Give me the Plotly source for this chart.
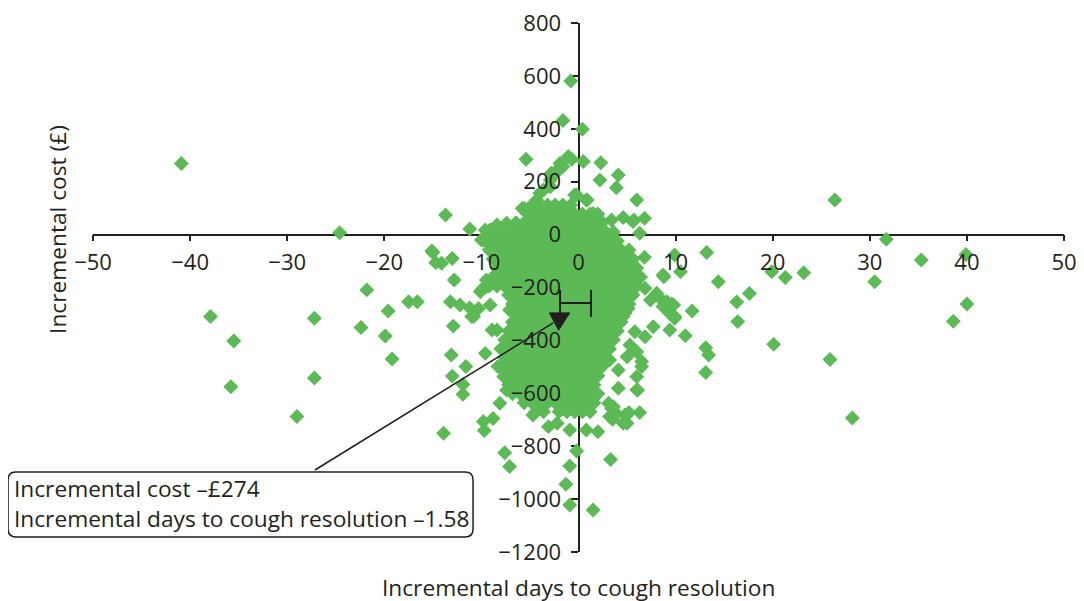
import plotly.graph_objects as go

INK = '#231f20'
GREEN = 'rgb(92,186,86)'
FONT = 'Open Sans'
FS = 22      # tick labels
FT = 22.7    # titles and call-out text

# ---------------- data -------------------------------------------------
# scattered bootstrap replicates (incremental days, incremental cost £)
out_days = [-40.9, -24.6, -13.7, -11.2, -21.8, -37.9, -27.2, -17.5, -16.6, -19.6,
            -22.4, -19.9, -35.5, -19.2, -27.2, -35.8, -29.0, -13.9, -9.7, -8.8,
            -15.1, -14.7, -14.1, -13.0, -12.8, -13.2, -12.2, -11.2, -10.8, -12.9,
            -13.1, -11.6, -13.0, -11.9, -11.9, -9.6, -9.1, -10.0, -9.5, -9.9, -9.1,
            26.4, 31.7, 35.3, 39.9, 13.2, 14.4, 19.9, 21.3, 23.2, 17.6, 16.3, 16.4,
            30.5, 40.0, 38.6, 20.1, 25.9, 28.2, 13.1, 13.4, 13.1,
            9.9, 8.8, 10.5, 11.7, 9.6, 8.7, 9.9, 9.4, 11.0,
            -5.4, -0.8, -1.6, 0.4, -1.05, 0.5, 2.3, 2.2, 4.1, 3.9, 6.0, -0.4, 0.9,
            6.8, 5.7, 4.6, 6.3, 6.8, 8.7,
            -1.9, -2.2, -2.8, -1.6, -0.7, -2.9, -4.0, -4.8, -5.8, -5.3, -0.2, 0.8,
            -0.9, 0.15, 1.5, 2.2, 3.4, 5.6, -3.6, -4.3, -2.9, -2.2,
            -15.0, -8.4, -7.4, -6.5, -5.6, -10.0, -9.6,
            -10.1, -9.5, -11.0, -8.9, -9.8, -8.3, -7.7, -7.4, -8.1, -4.7, -7.1,
            -8.4, -7.1, -6.0, -10.3,
            -0.2, 3.3, -0.9, -7.6, -7.1, -1.3, -0.9, 1.5, -3.1, -2.2, 5.0, 6.3, 5.2,
            3.5, 2.0, 0.8, -0.9, 6.1, 3.4, 3.9, 3.1, 4.8, 1.2, 1.5, 0.8, -0.5, 0.15,
            8.05, 9.1, 9.8, 9.9, 7.7, 6.85, 5.8, 6.5, 6.0, 6.0, 4.1, 5.1, 3.2, 3.6,
            4.6, 3.2, 4.1, 5.0, 6.0, 5.3, 6.5, 6.85, 7.4, 8.4, 9.4, 4.3, 5.1, 4.6]
out_cost = [269, 7, 74, 21, -209, -310, -316, -254, -254, -289,
            -351, -383, -402, -470, -542, -575, -688, -751, -741, -695,
            -62, -106, -108, -90, -172, -254, -266, -277, -310, -346,
            -455, -499, -535, -567, -604, -449, -266, -209, -172, -20, 17,
            131, -18, -96, -75, -68, -178, -140, -162, -144, -223, -255, -329,
            -178, -262, -328, -415, -472, -693, -428, -455, -521,
            -77, -159, -140, -289, -262, -272, -316, -361, -382,
            285, 581, 431, 398, 295, 276, 272, 206, 225, 177, 131, 150, 131,
            62, 55, 65, 5, -86, -153,
            270, 244, 232, 257, 285, 181, 156, 105, 99, 55, 150, 131,
            68, 68, 80, 55, 55, 49, 169, 131, 206, 238,
            -68, 36, 43, 43, 99, -20, 17,
            -216, -197, -310, -361, -707, -499, -537, -588, -638, -682, -411,
            -361, -285, -298, -279,
            -818, -850, -875, -825, -877, -944, -1022, -1041, -726, -713, -713, -673, -673,
            -698, -745, -739, -739, -588, -657, -676, -638, -682, -499, -524, -588, -619, -638,
            -222, -254, -266, -310, -348, -386, -367, -499, -587, -537, -581, -676, -688, -651,
            -713, -474, -512, -462, -443, -417, -480, -203, -247, -241, -298, -266, -279, -310]

# dense core of the cloud, read band by band (cost level -> days values)
core_cost_levels = [112, 78, 44, 10, -24, -58, -92, -126, -160, -194, -228, -262,
                    -296, -330, -364, -398, -432, -466, -500, -534, -568, -602, -636, -670]
core_days_rows = [
    [-4.8, -4.0, -3.2, -2.4, -1.6, -0.8],
    [-5.2, -4.4, -3.6, -2.8, -2.0, -1.2, -0.4, 0.4, 1.2, 2.0],
    [-6.4, -5.6, -4.8, -4.0, -3.2, -2.4, -1.6, -0.8, 0.0, 0.8, 1.6, 2.4],
    [-9.2, -8.4, -7.6, -6.8, -6.0, -5.2, -4.4, -3.6, -2.8, -2.0, -1.2, -0.4, 0.4, 1.2, 2.0, 2.8, 3.6],
    [-9.6, -8.8, -8.0, -7.2, -6.4, -5.6, -4.8, -4.0, -3.2, -2.4, -1.6, -0.8, 0.0, 0.8, 1.6, 2.4, 3.2, 4.0],
    [-9.2, -8.4, -7.6, -6.8, -6.0, -5.2, -4.4, -3.6, -2.8, -2.0, -1.2, -0.4, 0.4, 1.2, 2.0, 2.8, 3.6, 4.4, 5.2],
    [-8.8, -8.0, -7.2, -6.4, -5.6, -4.8, -4.0, -3.2, -2.4, -1.6, -0.8, 0.0, 0.8, 1.6, 2.4, 3.2, 4.0, 4.8, 5.6],
    [-8.4, -7.6, -6.8, -6.0, -5.2, -4.4, -3.6, -2.8, -2.0, -1.2, -0.4, 0.4, 1.2, 2.0, 2.8, 3.6, 4.4, 5.2, 6.0],
    [-8.8, -8.0, -7.2, -6.4, -5.6, -4.8, -4.0, -3.2, -2.4, -1.6, -0.8, 0.0, 0.8, 1.6, 2.4, 3.2, 4.0, 4.8, 5.6, 6.4],
    [-9.2, -8.4, -7.6, -6.8, -6.0, -5.2, -4.4, -3.6, -2.8, -2.0, -1.2, -0.4, 0.4, 1.2, 2.0, 2.8, 3.6, 4.4, 5.2, 6.0],
    [-7.2, -6.4, -5.6, -4.8, -4.0, -3.2, -2.4, -1.6, -0.8, 0.0, 0.8, 1.6, 2.4, 3.2, 4.0, 4.8, 5.6],
    [-6.8, -6.0, -5.2, -4.4, -3.6, -2.8, -2.0, -1.2, -0.4, 0.4, 1.2, 2.0, 2.8, 3.6, 4.4, 5.2],
    [-6.4, -5.6, -4.8, -4.0, -3.2, -2.4, -1.6, -0.8, 0.0, 0.8, 1.6, 2.4, 3.2, 4.0, 4.8],
    [-6.8, -6.0, -5.2, -4.4, -3.6, -2.8, -2.0, -1.2, -0.4, 0.4, 1.2, 2.0, 2.8, 3.6, 4.4],
    [-7.2, -6.4, -5.6, -4.8, -4.0, -3.2, -2.4, -1.6, -0.8, 0.0, 0.8, 1.6, 2.4, 3.2, 4.0],
    [-7.6, -6.8, -6.0, -5.2, -4.4, -3.6, -2.8, -2.0, -1.2, -0.4, 0.4, 1.2, 2.0, 2.8, 3.6],
    [-8.0, -7.2, -6.4, -5.6, -4.8, -4.0, -3.2, -2.4, -1.6, -0.8, 0.0, 0.8, 1.6, 2.4, 3.2],
    [-7.6, -6.8, -6.0, -5.2, -4.4, -3.6, -2.8, -2.0, -1.2, -0.4, 0.4, 1.2, 2.0, 2.8],
    [-8.0, -7.2, -6.4, -5.6, -4.8, -4.0, -3.2, -2.4, -1.6, -0.8, 0.0, 0.8, 1.6, 2.4],
    [-7.6, -6.8, -6.0, -5.2, -4.4, -3.6, -2.8, -2.0, -1.2, -0.4, 0.4, 1.2, 2.0],
    [-7.2, -6.4, -5.6, -4.8, -4.0, -3.2, -2.4, -1.6, -0.8, 0.0, 0.8, 1.6],
    [-6.8, -6.0, -5.2, -4.4, -3.6, -2.8, -2.0, -1.2, -0.4, 0.4, 1.2, 2.0],
    [-5.6, -4.8, -4.0, -3.2, -2.4, -1.6, -0.8, 0.0, 0.8, 1.6],
    [-4.4, -3.6, -2.0, -1.2, -0.4, 0.4, 1.2],
]

mean_cost = -274
mean_days = -1.58

x_tick_vals = [-50, -40, -30, -20, -10, 0, 10, 20, 30, 40, 50]
x_tick_text = ['\u221250', '\u221240', '\u221230', '\u221220', '\u221210', '0',
               '10', '20', '30', '40', '50']
y_tick_vals = [-1200, -1000, -800, -600, -400, -200, 0, 200, 400, 600, 800]
y_tick_text = ['\u22121200', '\u22121000', '\u2212800', '\u2212600', '\u2212400',
               '\u2212200', '0', '200', '400', '600', '800']

# ---------------- assemble ---------------------------------------------
days = list(out_days)
cost = list(out_cost)
for level, row in zip(core_cost_levels, core_days_rows):
    for d in row:
        days.append(d)
        cost.append(level)

fig = go.Figure()
fig.add_trace(go.Scatter(
    x=days, y=cost, mode='markers',
    marker=dict(symbol='diamond', size=11.5, color=GREEN, line=dict(width=0)),
    hoverinfo='x+y', showlegend=False))
# empty trace to host the label-only overlay axes
fig.add_trace(go.Scatter(x=[None], y=[None], xaxis='x2', yaxis='y2',
                         mode='markers', showlegend=False, hoverinfo='skip'))

axis_common = dict(showgrid=False, zeroline=False, fixedrange=True, automargin=False)

# the page body adds an 8px margin, so the figure starts 8px in from the corner
fig.update_layout(
    width=1076, height=593,
    margin=dict(l=85, r=20, t=15, b=49),
    paper_bgcolor='white', plot_bgcolor='white',
    font=dict(family=FONT, size=FS, color=INK),
    showlegend=False,
    xaxis=dict(range=[-50, 50], domain=[0, 1], anchor='free', position=0.6,
               showline=True, linecolor=INK, linewidth=1.5,
               ticks='outside', ticklen=6, tickwidth=1.5, tickcolor=INK,
               tickvals=x_tick_vals, showticklabels=False,
               layer='below traces', **axis_common),
    yaxis=dict(range=[-1200, 800], domain=[0, 1], anchor='free', position=0.5,
               showline=True, linecolor=INK, linewidth=1.5,
               ticks='outside', ticklen=7, tickwidth=1.5, tickcolor=INK,
               tickvals=y_tick_vals, showticklabels=False,
               layer='below traces', **axis_common),
    xaxis2=dict(range=[-50, 50], overlaying='x', anchor='free', position=0.6,
                showline=False, ticks='outside', ticklen=6,
                tickcolor='rgba(0,0,0,0)', tickvals=x_tick_vals,
                ticktext=x_tick_text, tickfont=dict(size=FS, color=INK),
                ticklabelstandoff=2, ticklabeloverflow='allow',
                layer='above traces', **axis_common),
    yaxis2=dict(range=[-1200, 800], overlaying='y', anchor='free', position=0.5,
                side='left', showline=False, ticks='outside', ticklen=7,
                tickcolor='rgba(0,0,0,0)', tickvals=y_tick_vals,
                ticktext=y_tick_text, tickfont=dict(size=FS, color=INK),
                ticklabelstandoff=6, ticklabeloverflow='allow',
                layer='above traces', **axis_common),
)

# axis titles
fig.add_annotation(text='Incremental days to cough resolution', xref='paper', yref='paper',
                   x=0.4995, y=-0.0665, xanchor='center', yanchor='middle',
                   showarrow=False, font=dict(size=FT, color=INK))
fig.add_annotation(text='Incremental cost (\u00a3)', xref='paper', yref='paper',
                   x=-0.036, y=0.609, xanchor='center', yanchor='middle', textangle=-90,
                   showarrow=False, font=dict(size=FT, color=INK))

# mean marker: range bar and downward arrow (data coordinates)
LW = 2
fig.add_shape(type='line', xref='x', yref='y', x0=-1.9, x1=-1.9, y0=-209, y1=-300,
              line=dict(color=INK, width=LW))
fig.add_shape(type='line', xref='x', yref='y', x0=-1.9, x1=1.29, y0=-258.6, y1=-258.6,
              line=dict(color=INK, width=LW))
fig.add_shape(type='line', xref='x', yref='y', x0=1.29, x1=1.29, y0=-209, y1=-311,
              line=dict(color=INK, width=LW))
fig.add_shape(type='path', xref='x', yref='y',
              path='M -3.0,-296 L -0.9,-296 L -2.05,-362 Z',
              fillcolor=INK, line=dict(color=INK, width=1))
fig.add_shape(type='line', xref='x', yref='y', x0=-27.14, y0=-890, x1=-2.6, y1=-334,
              line=dict(color=INK, width=1.5))

# rounded call-out box
x0, x1, yb, yt = -0.0875, 0.3914, 0.0284, 0.1512
rx, ry = 0.0082, 0.0151
box = (f'M {x0+rx},{yb} L {x1-rx},{yb} Q {x1},{yb} {x1},{yb+ry} '
       f'L {x1},{yt-ry} Q {x1},{yt} {x1-rx},{yt} L {x0+rx},{yt} '
       f'Q {x0},{yt} {x0},{yt-ry} L {x0},{yb+ry} Q {x0},{yb} {x0+rx},{yb} Z')
fig.add_shape(type='path', xref='paper', yref='paper', path=box,
              fillcolor='white', line=dict(color=INK, width=1.5))
fig.add_annotation(
    text=f'Incremental cost \u2013\u00a3{abs(mean_cost)}<br>'
         f'Incremental days to cough resolution \u2013{abs(mean_days):.2f}',
    xref='paper', yref='paper', x=-0.083, y=0.0925, xanchor='left', yanchor='middle',
    align='left', showarrow=False, font=dict(size=FT, color=INK))

fig.write_html('out.html')
